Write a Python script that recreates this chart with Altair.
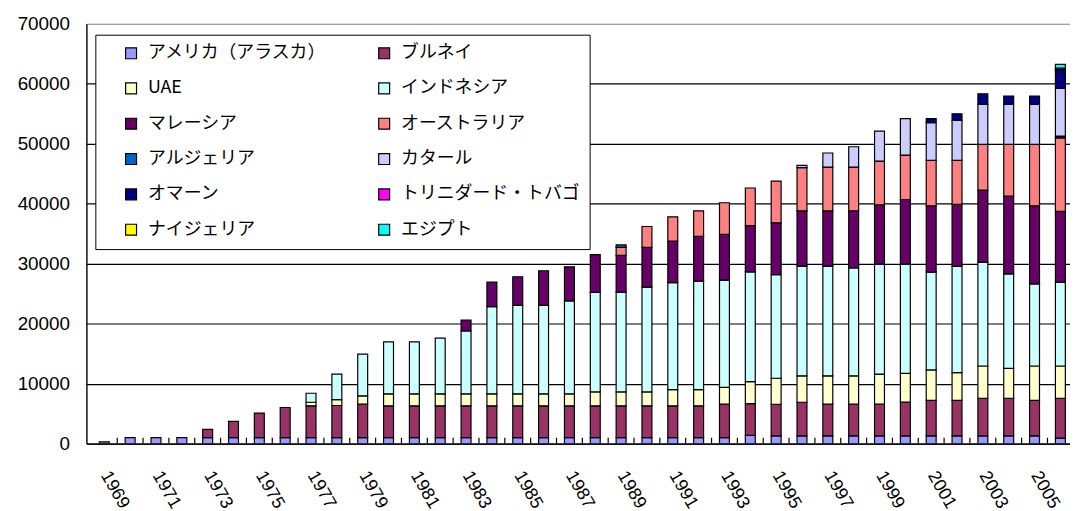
import altair as alt
import pandas as pd

# ---- data (thousand tonnes) ----
years = list(range(1969, 2007))

series_names = [
    "アメリカ（アラスカ）", "ブルネイ", "UAE", "インドネシア",
    "マレーシア", "オーストラリア", "アルジェリア", "カタール",
    "オマーン", "トリニダード・トバゴ", "ナイジェリア", "エジプト",
]
series_colors = [
    "#9999FF", "#993366", "#FFFFCC", "#CCFFFF",
    "#660066", "#FF8080", "#0066CC", "#CCCCFF",
    "#000080", "#FF00FF", "#FFFF00", "#00FFFF",
]

usa = [300, 1000, 1000, 1000, 1000, 1000, 1000, 1000, 1000, 1000,
       1000, 1000, 1000, 1000, 1000, 1000, 1000, 1000, 1000, 1000,
       1000, 1000, 1000, 1000, 1000, 1380, 1300, 1300, 1300, 1300,
       1300, 1300, 1300, 1300, 1300, 1300, 1300, 900]
brunei = [0, 0, 0, 0, 1370, 2700, 4090, 5020, 5300, 5350,
          5580, 5300, 5300, 5300, 5300, 5300, 5300, 5300, 5300, 5300,
          5300, 5300, 5300, 5300, 5600, 5280, 5260, 5600, 5300, 5300,
          5300, 5640, 5920, 5920, 6260, 6260, 5920, 6660]
uae = [0, 0, 0, 0, 0, 0, 0, 0, 600, 1000,
       1380, 2000, 2000, 2000, 2000, 2000, 2000, 2000, 2000, 2320,
       2320, 2320, 2700, 2700, 2780, 3660, 4340, 4400, 4700, 4700,
       5000, 4760, 5060, 4610, 5380, 5000, 5720, 5380]
indonesia = [0, 0, 0, 0, 0, 0, 0, 0, 1500, 4250,
             6970, 8670, 8670, 9280, 10490, 14530, 14760, 14760, 15490, 16590,
             16590, 17470, 17820, 18080, 17870, 18320, 17260, 18300, 18300, 17980,
             18330, 18230, 16320, 17720, 17330, 15750, 13690, 13960]
malaysia = [0, 0, 0, 0, 0, 0, 0, 0, 0, 0,
            0, 0, 0, 0, 1820, 4090, 4760, 5760, 5690, 6300,
            6190, 6630, 6960, 7460, 7650, 7710, 8650, 9200, 9200, 9520,
            9870, 10770, 11030, 10340, 12010, 12970, 13000, 11820]
australia = [0, 0, 0, 0, 0, 0, 0, 0, 0, 0,
             0, 0, 0, 0, 0, 0, 0, 0, 0, 0,
             1320, 3480, 4030, 4260, 5260, 6270, 6950, 7200, 7300, 7300,
             7300, 7400, 7590, 7330, 7610, 8610, 10260, 12260]
algeria = [0, 0, 0, 0, 0, 0, 0, 0, 0, 0,
           0, 0, 0, 0, 0, 0, 0, 0, 0, 0,
           400, 0, 0, 0, 0, 0, 0, 0, 0, 0,
           0, 0, 0, 0, 0, 0, 0, 300]
qatar = [0, 0, 0, 0, 0, 0, 0, 0, 0, 0,
         0, 0, 0, 0, 0, 0, 0, 0, 0, 0,
         0, 0, 0, 0, 0, 0, 0, 400, 2350, 3400,
         5000, 6100, 6280, 6670, 6670, 6670, 6670, 7940]
oman = [0, 0, 0, 0, 0, 0, 0, 0, 0, 0,
        0, 0, 0, 0, 0, 0, 0, 0, 0, 0,
        0, 0, 0, 0, 0, 0, 0, 0, 0, 0,
        0, 0, 700, 1100, 1770, 1400, 1400, 3000]
trinidad = [0, 0, 0, 0, 0, 0, 0, 0, 0, 0,
            0, 0, 0, 0, 0, 0, 0, 0, 0, 0,
            0, 0, 0, 0, 0, 0, 0, 0, 0, 0,
            0, 0, 0, 0, 0, 0, 0, 150]
nigeria = [0, 0, 0, 0, 0, 0, 0, 0, 0, 0,
           0, 0, 0, 0, 0, 0, 0, 0, 0, 0,
           0, 0, 0, 0, 0, 0, 0, 0, 0, 0,
           0, 0, 0, 0, 0, 0, 0, 250]
egypt = [0, 0, 0, 0, 0, 0, 0, 0, 0, 0,
         0, 0, 0, 0, 0, 0, 0, 0, 0, 0,
         0, 0, 0, 0, 0, 0, 0, 0, 0, 0,
         0, 0, 0, 0, 0, 0, 0, 600]

series_values = [usa, brunei, uae, indonesia, malaysia, australia,
                 algeria, qatar, oman, trinidad, nigeria, egypt]

x_label_years = [1969, 1971, 1973, 1975, 1977, 1979, 1981, 1983, 1985, 1987,
                 1989, 1991, 1993, 1995, 1997, 1999, 2001, 2003, 2005]
y_tick_values = [0, 10000, 20000, 30000, 40000, 50000, 60000, 70000]

# ---- long table ----
rows = []
for si, (name, vals) in enumerate(zip(series_names, series_values)):
    for yr, v in zip(years, vals):
        rows.append({"year": yr, "series": name, "idx": si, "value": v})
df = pd.DataFrame(rows)
tick_df = pd.DataFrame({"year": years})

NUM_FONT = "Liberation Sans"
JP_FONT = "Noto Sans CJK JP"

x_scale = alt.Scale(domain=[1968.5, 2006.18], nice=False, zero=False)
x_axis = alt.Axis(
    values=x_label_years, format="d", title=None,
    labelAngle=60, labelAlign="left", labelBaseline="middle",
    labelPadding=29, ticks=False, grid=False,
    domain=True, domainColor="black", domainWidth=1.4,
    labelFont=NUM_FONT, labelFontSize=18, labelColor="black",
    labelOverlap=False, labelFlush=False,
)

bars = (
    alt.Chart(df)
    .transform_filter("datum.value > 0")
    .mark_bar(width=10, stroke="black", strokeWidth=1.2, clip=True)
    .encode(
        x=alt.X("year:Q", scale=x_scale, axis=x_axis),
        y=alt.Y(
            "value:Q",
            stack="zero",
            scale=alt.Scale(domain=[0, 70000], nice=False),
            axis=alt.Axis(
                values=y_tick_values, format="d", title=None,
                ticks=False, labelPadding=17,
                labelFont=NUM_FONT, labelFontSize=19, labelColor="black",
                domain=True, domainColor="black", domainWidth=1.4,
                grid=True, gridWidth=1.2,
                gridColor={"condition": {"test": "datum.value >= 70000", "value": "#808080"},
                           "value": "black"},
            ),
        ),
        color=alt.Color(
            "series:N",
            scale=alt.Scale(domain=series_names, range=series_colors),
            legend=alt.Legend(
                title=None, orient="none", legendX=9, legendY=11,
                direction="horizontal",
                columns=2, columnPadding=32, rowPadding=16.6, clipHeight=17,
                gridAlign="each",
                symbolType="square", symbolSize=121,
                symbolStrokeColor="black", symbolStrokeWidth=1.2,
                symbolOffset=17, labelOffset=8,
                labelFont=JP_FONT, labelFontSize=18, labelColor="black",
                labelLimit=400,
                padding=10, strokeColor="black", fillColor="white",
            ),
        ),
        order=alt.Order("idx:Q", sort="ascending"),
    )
)

ticks = (
    alt.Chart(tick_df)
    .transform_calculate(b="datum.year + 0.5")
    .mark_rule(color="black", strokeWidth=1.2, clip=True)
    .encode(
        x=alt.X("b:Q", scale=x_scale, axis=x_axis),
        y=alt.value(423),
        y2=alt.value(417),
    )
)

chart = (
    alt.layer(bars, ticks)
    .properties(
        width=991, height=423,
        autosize=alt.AutoSizeParams(type="none"),
        padding={"left": 79, "top": 14, "right": 0, "bottom": 66},
        background="white",
    )
    .configure_view(strokeWidth=0)
)

chart.save("out.html", embed_options={"renderer": "svg", "actions": False})
